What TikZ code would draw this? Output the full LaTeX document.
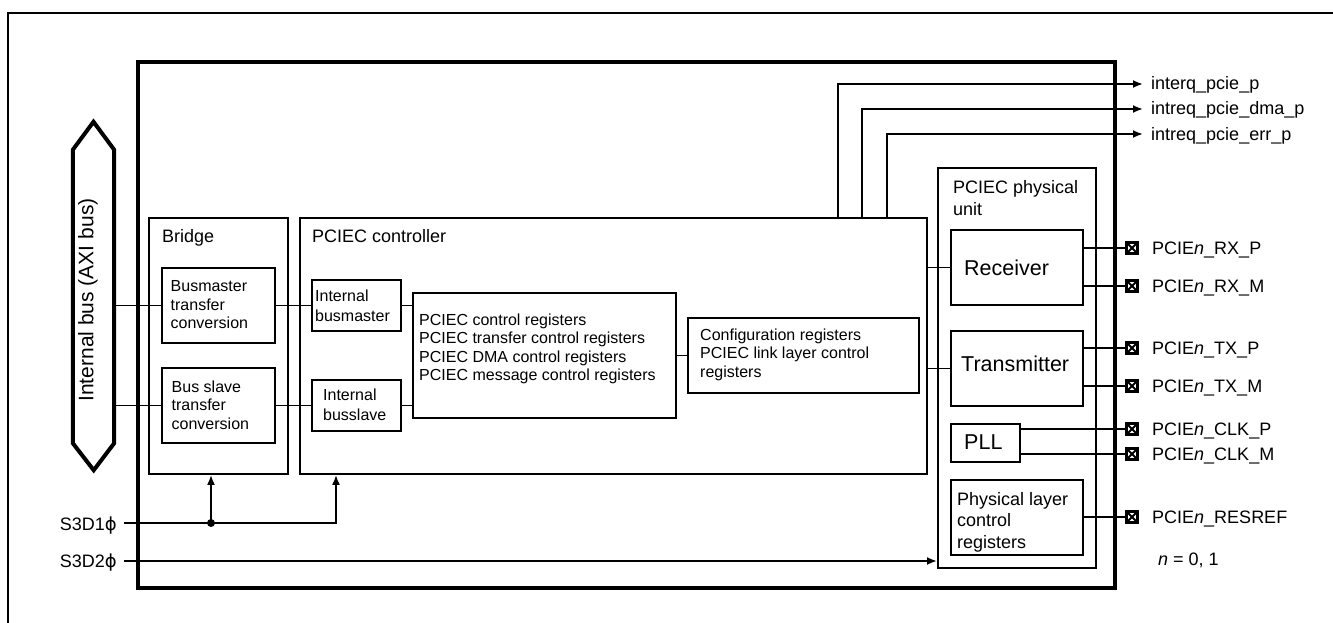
\documentclass[tikz,border=0pt]{standalone}
\usepackage{fontspec}
\setmainfont{Liberation Sans}
\newfontfamily\phifont{DejaVu Sans}
\usetikzlibrary{arrows.meta,calc}
\newcommand\fsz[2]{\fontsize{#1}{#2}\selectfont}
\newcommand\ph{{\phifont ϕ}}
\begin{document}
\begin{tikzpicture}[x=1pt,y=-1pt,
  box/.style={draw, line width=1.9pt, inner sep=0pt, anchor=north west},
  wire/.style={line width=1.9pt},
  arr/.style={wire, -{Latex[length=10pt,width=8pt]}},
  lbl/.style={inner sep=0pt, anchor=base west, font=\fsz{18}{21}},
  small/.style={inner sep=0pt, anchor=base west, align=left, font=\fsz{16}{18.5}},
  big/.style={inner sep=0pt, anchor=base west, font=\fsz{21.5}{24}},
  pin/.style={draw, line width=2.6pt, minimum size=11pt, inner sep=0pt,
    path picture={\draw[line width=2pt] (path picture bounding box.north west) -- (path picture bounding box.south east)
      (path picture bounding box.north east) -- (path picture bounding box.south west);}},
  dot/.style={circle, fill, inner sep=0pt, minimum size=8pt}]
\useasboundingbox (0,0) rectangle (1333,623);
% outer frame
\draw[line width=2.2pt] (8,623) -- (8,13) -- (1333,13);
% chip
\node[box, line width=4.2pt, minimum width=977, minimum height=526] (chip) at (136,60) {};
% internal bus
\node[minimum width=41, minimum height=293, inner sep=0pt] (bus) at (93.5,296.5) {};
\draw[line width=4pt] (bus.north) ++(0,-28) -- (bus.north east) -- (bus.south east) -- ++(-20.5,27)
  -- (bus.south west) -- (bus.north west) -- cycle;
\node[rotate=90, inner sep=0pt, font=\fsz{21}{24}] (bustxt) at (88,300) {Internal bus (AXI bus)};
% bridge
\node[box, minimum width=139, minimum height=256] (bridge) at (148,217) {};
\node[lbl] (bridgetxt) at (162,242) {Bridge};
\node[box, minimum width=113, minimum height=75] (bm) at (161,267) {};
\node[small] (bmtxt) at (170.5,328.5) {Busmaster\\transfer\\conversion};
\node[box, minimum width=113, minimum height=75] (bs) at (161,367) {};
\node[small] (bstxt) at (171.5,429) {Bus slave\\transfer\\conversion};
% controller
\node[box, minimum width=627, minimum height=256] (ctrl) at (299,217) {};
\node[lbl] (ctrltxt) at (312,242) {PCIEC controller};
\node[box, minimum width=89, minimum height=51] (ibm) at (311,279) {};
\node[small, font=\fsz{16}{19.5}] (ibmtxt) at (315,321) {Internal\\busmaster};
\node[box, minimum width=89, minimum height=51] (ibs) at (311,379) {};
\node[small, font=\fsz{16}{19.5}] (ibstxt) at (323,420) {Internal\\busslave};
\node[box, minimum width=263, minimum height=125] (regs) at (412,292) {};
\node[small] (regstxt) at (419,380.5) {PCIEC control registers\\PCIEC transfer control registers\\PCIEC DMA control registers\\PCIEC message control registers};
\node[box, minimum width=231, minimum height=75] (conf) at (687,317) {};
\node[small, font=\fsz{16}{18.7}] (conftxt) at (700,377.5) {Configuration registers\\PCIEC link layer control\\registers};
% physical unit
\node[box, minimum width=158, minimum height=400] (phy) at (937,167) {};
\node[lbl, align=left, font=\fsz{18}{22}] (phytxt) at (953,215) {PCIEC physical\\unit};
\node[box, minimum width=132, minimum height=75] (rx) at (950,229) {};
\node[big] (rxtxt) at (964,275) {Receiver};
\node[box, minimum width=132, minimum height=75] (tx) at (950,330) {};
\node[big] (txtxt) at (961,371) {Transmitter};
\node[box, minimum width=69, minimum height=38] (pll) at (950,423) {};
\node[big] (plltxt) at (964,449) {PLL};
\node[box, minimum width=132, minimum height=75] (plc) at (950,479) {};
\node[lbl, align=left, font=\fsz{18}{21.5}] (plctxt) at (957,548) {Physical layer\\control\\registers};
% internal connections
\draw[wire] (bus.east |- bm.west) -- (bm.west);
\draw[wire] (bus.east |- bs.west) -- (bs.west);
\draw[wire] (bm.east) -- (ibm.west);
\draw[wire] (bs.east) -- (ibs.west);
\draw[wire] (ibm.east) -- (ibm.east -| regs.west);
\draw[wire] (ibs.east) -- (ibs.east -| regs.west);
\draw[wire] (regs.east |- conf.west) -- (conf.west);
\draw[wire] (ctrl.east |- rx.west) -- (rx.west);
\draw[wire] (ctrl.east |- tx.west) -- (tx.west);
% interrupts
\coordinate (i1) at (1143,84);
\coordinate (i2) at (1143,109);
\coordinate (i3) at (1143,134);
\draw[arr] ([xshift=539pt]ctrl.north west) |- (i1);
\draw[arr] ([xshift=563pt]ctrl.north west) |- (i2);
\draw[arr] ([xshift=588pt]ctrl.north west) |- (i3);
\node[lbl] (li1) at (1151,90) {interq\_pcie\_p};
\node[lbl] (li2) at (1151,115) {intreq\_pcie\_dma\_p};
\node[lbl] (li3) at (1151,140) {intreq\_pcie\_err\_p};
% pins
\node[pin] (prxp) at (1132,248) {};
\node[pin] (prxm) at (1132,286) {};
\node[pin] (ptxp) at (1132,348) {};
\node[pin] (ptxm) at (1132,386) {};
\node[pin] (pclkp) at (1132,429) {};
\node[pin] (pclkm) at (1132,454) {};
\node[pin] (pres) at (1132,517) {};
\draw[wire] (rx.east |- prxp) -- (prxp.west);
\draw[wire] (rx.east |- prxm) -- (prxm.west);
\draw[wire] (tx.east |- ptxp) -- (ptxp.west);
\draw[wire] (tx.east |- ptxm) -- (ptxm.west);
\draw[wire] (pll.east |- pclkp) -- (pclkp.west);
\draw[wire] (pll.east |- pclkm) -- (pclkm.west);
\draw[wire] (plc.east |- pres) -- (pres.west);
\node[lbl] (lrxp) at (1152,254) {PCIE\textit{n}\_RX\_P};
\node[lbl] (lrxm) at (1152,292) {PCIE\textit{n}\_RX\_M};
\node[lbl] (ltxp) at (1152,354) {PCIE\textit{n}\_TX\_P};
\node[lbl] (ltxm) at (1152,392) {PCIE\textit{n}\_TX\_M};
\node[lbl] (lclkp) at (1152,435) {PCIE\textit{n}\_CLK\_P};
\node[lbl] (lclkm) at (1152,460) {PCIE\textit{n}\_CLK\_M};
\node[lbl] (lres) at (1152,523) {PCIE\textit{n}\_RESREF};
\node[lbl] (nnote) at (1158,565) {\textit{n} = 0, 1};
% clocks
\coordinate (s1) at (124,523);
\coordinate (s2) at (124,561);
\node[inner sep=0pt, anchor=base east, font=\fsz{18}{21}] (ls1) at (117,530) {S3D1\ph};
\node[inner sep=0pt, anchor=base east, font=\fsz{18}{21}] (ls2) at (117,567) {S3D2\ph};
\node[dot] (j1) at (211,523) {};
\draw[arr] (s1) -| ([xshift=37pt]ctrl.south west);
\draw[arr] (j1.center) -- (j1.center |- bridge.south);
\draw[arr] (s2) -- (s2 -| phy.west);
\end{tikzpicture}
\end{document}
